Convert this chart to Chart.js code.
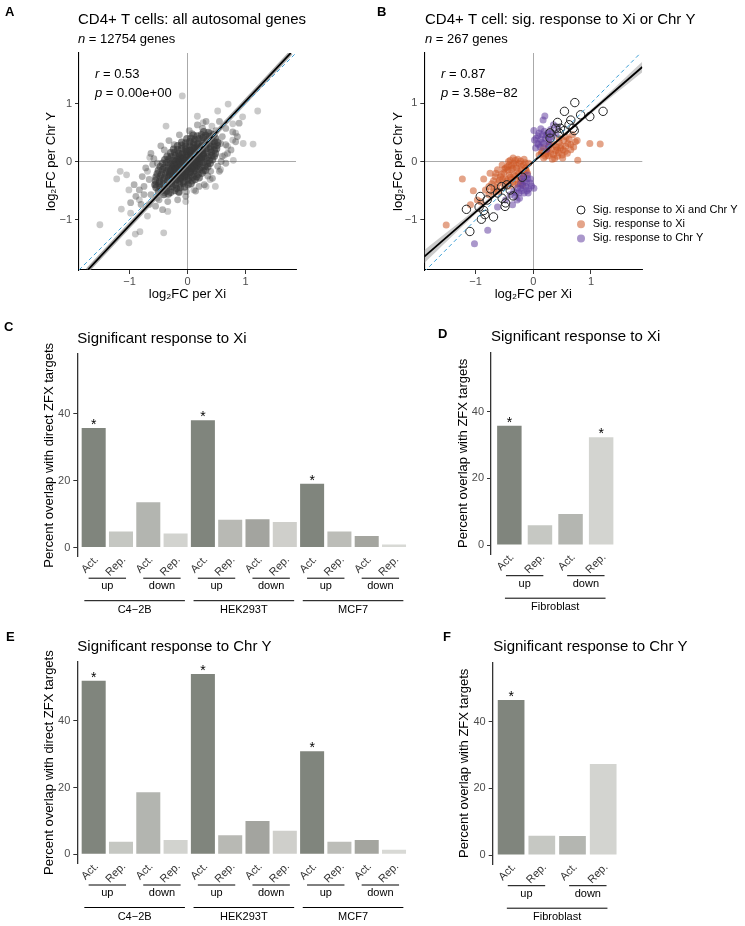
<!DOCTYPE html>
<html>
<head>
<meta charset="utf-8">
<script src="https://cdn.jsdelivr.net/npm/chart.js"></script>
<style>
  body { margin: 0; background: #fff; width: 745px; height: 926px; position: relative; overflow: hidden; }
  canvas { position: absolute; }
</style>
</head>
<body>
<canvas id="cA" width="372" height="310" style="left:0;top:0;width:372px;height:310px"></canvas>
<canvas id="cB" width="373" height="310" style="left:372px;top:0;width:373px;height:310px"></canvas>
<canvas id="cC" width="430" height="310" style="left:0;top:310px;width:430px;height:310px"></canvas>
<canvas id="cD" width="315" height="310" style="left:430px;top:310px;width:315px;height:310px"></canvas>
<canvas id="cE" width="430" height="306" style="left:0;top:620px;width:430px;height:306px"></canvas>
<canvas id="cF" width="315" height="306" style="left:430px;top:620px;width:315px;height:306px"></canvas>
<script>
// ---- data ----

// A: all autosomal genes, log2FC per Xi vs per Chr Y
// dense centre (each point stands for a pile of overlapping genes), halo, outliers
const allGenesCore = [
  [-0.41,-0.57],[-0.33,-0.56],
  [-0.50,-0.52],[-0.44,-0.50],[-0.36,-0.51],[-0.29,-0.53],[-0.22,-0.50],[-0.15,-0.52],
  [-0.54,-0.45],[-0.47,-0.44],[-0.40,-0.46],[-0.33,-0.45],[-0.26,-0.43],[-0.19,-0.46],[-0.12,-0.45],[-0.05,-0.44],
  [-0.56,-0.40],[-0.49,-0.38],[-0.42,-0.39],[-0.35,-0.41],[-0.28,-0.38],[-0.21,-0.40],[-0.14,-0.39],[-0.07,-0.37],[0.01,-0.40],[0.06,-0.38],
  [-0.55,-0.33],[-0.48,-0.34],[-0.41,-0.32],[-0.34,-0.33],[-0.27,-0.35],[-0.20,-0.32],[-0.13,-0.33],[-0.06,-0.34],[0.01,-0.32],[0.08,-0.33],[0.13,-0.31],
  [-0.54,-0.27],[-0.47,-0.26],[-0.40,-0.28],[-0.33,-0.27],[-0.26,-0.25],[-0.19,-0.28],[-0.12,-0.27],[-0.05,-0.26],[0.02,-0.28],[0.09,-0.27],[0.16,-0.26],[0.20,-0.28],
  [-0.52,-0.21],[-0.45,-0.22],[-0.38,-0.20],[-0.31,-0.21],[-0.24,-0.23],[-0.17,-0.20],[-0.10,-0.21],[-0.03,-0.22],[0.04,-0.20],[0.11,-0.21],[0.18,-0.22],[0.25,-0.20],
  [-0.50,-0.15],[-0.43,-0.14],[-0.36,-0.16],[-0.29,-0.15],[-0.22,-0.13],[-0.15,-0.16],[-0.08,-0.15],[-0.01,-0.14],[0.06,-0.16],[0.13,-0.15],[0.20,-0.14],[0.27,-0.16],[0.31,-0.15],
  [-0.47,-0.09],[-0.40,-0.10],[-0.33,-0.08],[-0.26,-0.09],[-0.19,-0.11],[-0.12,-0.08],[-0.05,-0.09],[0.02,-0.10],[0.09,-0.08],[0.16,-0.09],[0.23,-0.10],[0.30,-0.08],[0.35,-0.09],
  [-0.43,-0.03],[-0.36,-0.02],[-0.29,-0.04],[-0.22,-0.03],[-0.15,-0.01],[-0.08,-0.04],[-0.01,-0.03],[0.06,-0.02],[0.13,-0.04],[0.20,-0.03],[0.27,-0.02],[0.34,-0.04],[0.39,-0.03],
  [-0.39,0.03],[-0.32,0.04],[-0.25,0.02],[-0.18,0.03],[-0.11,0.05],[-0.04,0.02],[0.03,0.03],[0.10,0.04],[0.17,0.02],[0.24,0.03],[0.31,0.05],[0.38,0.02],[0.43,0.03],
  [-0.35,0.09],[-0.28,0.08],[-0.21,0.10],[-0.14,0.09],[-0.07,0.07],[0.00,0.10],[0.07,0.09],[0.14,0.08],[0.21,0.10],[0.28,0.09],[0.35,0.08],[0.42,0.10],[0.46,0.09],
  [-0.29,0.15],[-0.22,0.16],[-0.15,0.14],[-0.08,0.15],[-0.01,0.17],[0.06,0.14],[0.13,0.15],[0.20,0.16],[0.27,0.14],[0.34,0.15],[0.41,0.16],[0.48,0.14],
  [-0.24,0.21],[-0.17,0.20],[-0.10,0.22],[-0.03,0.21],[0.04,0.19],[0.11,0.22],[0.18,0.21],[0.25,0.20],[0.32,0.22],[0.39,0.21],[0.46,0.20],[0.50,0.22],
  [-0.17,0.27],[-0.10,0.28],[-0.03,0.26],[0.04,0.27],[0.11,0.29],[0.18,0.26],[0.25,0.27],[0.32,0.28],[0.39,0.26],[0.46,0.27],[0.51,0.28],
  [-0.10,0.33],[-0.03,0.32],[0.04,0.34],[0.11,0.33],[0.18,0.31],[0.25,0.34],[0.32,0.33],[0.39,0.32],[0.46,0.34],[0.52,0.33],
  [-0.01,0.39],[0.06,0.40],[0.13,0.38],[0.20,0.39],[0.27,0.41],[0.34,0.38],[0.41,0.39],[0.48,0.40],
  [0.10,0.45],[0.17,0.44],[0.24,0.46],[0.31,0.45],[0.38,0.43],[0.45,0.46],
  [0.28,0.51],[0.36,0.50],
  [-0.26,-0.30],[-0.18,-0.31],[-0.12,-0.29],
  [-0.30,-0.24],[-0.23,-0.25],[-0.16,-0.23],[-0.09,-0.24],[-0.02,-0.25],
  [-0.30,-0.18],[-0.23,-0.17],[-0.16,-0.19],[-0.09,-0.18],[-0.02,-0.17],[0.05,-0.18],
  [-0.27,-0.12],[-0.20,-0.13],[-0.13,-0.11],[-0.06,-0.12],[0.01,-0.13],[0.08,-0.12],[0.12,-0.11],
  [-0.24,-0.06],[-0.17,-0.05],[-0.10,-0.07],[-0.03,-0.06],[0.04,-0.05],[0.11,-0.07],[0.17,-0.06],
  [-0.20,0.00],[-0.13,0.01],[-0.06,-0.01],[0.01,0.00],[0.08,0.02],[0.15,-0.01],[0.20,0.00],
  [-0.15,0.06],[-0.08,0.05],[-0.01,0.07],[0.06,0.06],[0.13,0.04],[0.20,0.07],[0.24,0.06],
  [-0.09,0.12],[-0.02,0.13],[0.05,0.11],[0.12,0.12],[0.19,0.14],[0.26,0.12],
  [-0.02,0.18],[0.05,0.19],[0.12,0.17],[0.19,0.18],[0.26,0.19],
  [0.09,0.24],[0.16,0.23],[0.23,0.25]
];
const allGenesHalo = [
  [-0.63,0.14],[-0.46,0.27],[-0.32,0.36],[-0.14,0.46],[0.03,0.53],[0.17,0.63],[0.32,0.69],[0.49,0.53],[0.60,0.43],
  [0.66,0.29],[0.69,0.14],[0.66,-0.03],[0.55,-0.17],[0.43,-0.29],[0.29,-0.40],[0.14,-0.51],[-0.03,-0.60],[-0.17,-0.66],
  [-0.34,-0.69],[-0.49,-0.66],[-0.63,-0.57],[-0.75,-0.43],[-0.78,-0.26],[-0.72,-0.11],[-0.55,-0.40],[-0.66,-0.31],
  [-0.40,-0.54],[0.20,-0.43],[0.40,-0.17],[0.60,0.09],[0.57,0.31],[0.40,0.49],[0.26,0.57],[-0.23,0.29],[-0.52,-0.03],
  [-0.14,-0.54],[-0.92,-0.40],[-0.83,-0.49],[-0.75,-0.57],[-0.89,-0.60],[-0.66,-0.74],[-0.80,-0.74],[-0.55,-0.77],
  [-0.43,-0.83],[-0.98,-0.71],[0.66,0.57],[0.78,0.51],[0.86,0.43],[0.89,0.66],[0.55,0.69],[0.75,0.20],[0.83,0.34],
  [-0.60,-0.05],[-0.58,0.05],[-0.40,0.20],[0.52,-0.08],[0.58,0.00],[0.35,-0.25],[-0.02,-0.52],[0.08,0.48]
];
const allGenesOutliers = [
  [-0.09,1.13],[0.70,0.99],[1.21,0.87],[0.52,0.87],[0.95,0.77],[0.17,0.78],[-0.37,0.61],[0.27,0.67],[0.42,0.61],
  [0.78,0.65],[0.83,0.49],[0.78,0.37],[0.96,0.31],[1.13,0.30],[0.69,0.26],[0.79,0.02],[0.64,0.11],[-0.65,0.07],
  [-1.16,-0.17],[-1.22,-0.30],[-1.05,-0.23],[-0.69,-0.17],[-1.01,-0.49],[-1.14,-0.82],[-0.98,-0.89],[-0.83,-0.66],
  [-0.69,-0.94],[-0.34,-0.86],[-0.52,-0.63],[-1.51,-1.09],[-0.82,-1.21],[-0.90,-1.25],[-1.01,-1.40],[-0.41,-1.23],
  [-0.03,-0.69],[0.32,-0.43],[0.48,-0.43],[0.11,-0.49],[0.39,-0.31],[0.57,-0.14]
];
const fitA = [[-1.72,-1.87],[1.78,1.87]];
const identityA = [[-1.87,-1.87],[1.87,1.87]];

// B: genes with a significant response
const sigBoth = [
  [0.72,1.01],[1.21,0.86],[0.98,0.77],[0.82,0.80],[0.54,0.86],[0.42,0.67],[0.65,0.71],[0.39,0.57],[0.47,0.57],
  [0.54,0.53],[0.69,0.57],[0.62,0.63],[0.29,0.49],[0.45,0.49],[0.71,0.53],[0.29,0.40],[-0.19,-0.27],[-0.46,-0.40],
  [-0.55,-0.43],[-0.74,-0.47],[-0.80,-0.66],[-0.92,-0.60],[-0.48,-0.71],[-0.54,-0.63],[-0.62,-0.54],[-1.16,-0.82],
  [-0.94,-0.78],[-0.86,-0.84],[-0.84,-0.91],[-0.69,-0.95],[-0.90,-0.99],[-1.10,-1.20],[-0.49,-0.77],[-0.35,-0.59],[-0.40,-0.49]
];
const sigXi = [
  [-0.17,-0.06],[-0.25,-0.03],[-0.34,-0.03],[-0.42,-0.06],[-0.48,-0.11],[-0.38,-0.14],[-0.29,-0.11],[-0.21,-0.14],
  [-0.13,-0.11],[-0.16,-0.20],[-0.25,-0.21],[-0.34,-0.23],[-0.42,-0.23],[-0.51,-0.19],[-0.57,-0.26],[-0.48,-0.30],
  [-0.38,-0.31],[-0.29,-0.30],[-0.22,-0.34],[-0.32,-0.40],[-0.42,-0.42],[-0.51,-0.40],[-0.61,-0.37],[-0.69,-0.33],
  [-0.77,-0.43],[-0.83,-0.49],[-0.68,-0.47],[-0.60,-0.51],[-0.45,-0.09],[-0.35,0.06],[-0.16,0.04],[-0.08,-0.03],
  [-0.27,0.04],[-0.40,0.02],[-0.54,-0.06],[-0.62,-0.14],[-0.75,-0.20],[-0.86,-0.30],[-1.04,-0.50],[-1.23,-0.30],
  [-1.51,-1.09],[-0.97,-0.66],[-1.09,-0.74],[-0.91,-0.69],[-0.77,-0.57],[-0.65,-0.20],[-0.23,-0.27],[-0.38,-0.07],
  [-0.10,-0.20],[-0.19,-0.40],
  [-0.20,-0.08],[-0.30,-0.06],[-0.36,-0.12],[-0.44,-0.15],[-0.27,-0.17],[-0.19,-0.22],[-0.31,-0.25],[-0.40,-0.27],
  [-0.46,-0.34],[-0.53,-0.30],[-0.36,-0.35],[-0.26,-0.38],[-0.55,-0.22],[-0.59,-0.32],[-0.66,-0.26],[-0.72,-0.38],
  [-0.14,-0.02],[-0.22,0.01],[-0.31,0.02],[-0.12,-0.16],[-0.43,0.00],[-0.50,-0.13],[-0.64,-0.44],[-0.70,-0.52],
  [0.14,0.14],[0.21,0.09],[0.30,0.14],[0.39,0.19],[0.47,0.23],[0.56,0.26],[0.65,0.29],[0.73,0.34],[0.59,0.14],
  [0.50,0.11],[0.42,0.09],[0.33,0.04],[0.24,0.17],[0.18,0.23],[0.27,0.25],[0.36,0.29],[0.45,0.33],[0.53,0.36],
  [0.62,0.38],[0.68,0.46],[0.76,0.36],[0.98,0.31],[1.16,0.30],[0.77,0.02],[0.18,0.06],[0.10,0.11],[0.42,0.20],
  [0.52,0.20],[0.65,0.20],
  [0.26,0.10],[0.35,0.12],[0.44,0.15],[0.55,0.17],[0.48,0.27],[0.40,0.25],[0.31,0.21],[0.22,0.13],[0.60,0.31],
  [0.70,0.25],[0.37,0.05],[0.51,0.06],[0.15,0.18],[0.28,0.30],[0.57,0.42],[0.45,0.40]
];
const sigChrY = [
  [0.02,0.37],[0.07,0.31],[0.13,0.38],[0.16,0.46],[0.08,0.44],[0.21,0.40],[0.25,0.49],[0.30,0.55],[0.18,0.31],
  [0.12,0.25],[0.27,0.34],[0.33,0.43],[0.20,0.78],[0.17,0.71],[0.35,0.63],[0.42,0.59],[0.01,0.53],[0.39,0.49],
  [0.04,0.23],[0.23,0.21],[0.05,0.40],[0.10,0.49],[0.15,0.33],[0.22,0.45],[0.28,0.40],[0.19,0.52],[0.09,0.29],
  [0.32,0.49],[0.26,0.28],[0.13,0.56],
  [-0.16,-0.34],[-0.10,-0.29],[-0.05,-0.37],[-0.13,-0.43],[-0.22,-0.46],[-0.25,-0.54],[-0.16,-0.54],[-0.08,-0.47],
  [0.01,-0.46],[-0.34,-0.51],[-0.31,-0.60],[-0.40,-0.57],[-0.48,-0.66],[-0.36,-0.74],[-0.62,-0.78],[-0.79,-1.18],
  [-1.02,-1.41],[-0.10,-0.23],[-0.17,-0.26],[-0.22,-0.38],[-0.09,-0.54],[-0.28,-0.66],
  [-0.20,-0.30],[-0.12,-0.36],[-0.05,-0.30],[-0.18,-0.41],[-0.27,-0.45],[-0.20,-0.50],[-0.11,-0.50],[-0.30,-0.54],
  [-0.03,-0.42],[-0.24,-0.63]
];
const fitB = [[-1.89,-1.63],[1.89,1.62]];
const bandBX = [-1.89, -1, 0, 1, 1.89];
const bandBUpper = [-1.52, -0.82, 0.025, 0.89, 1.71];
const bandBLower = [-1.74, -0.90, -0.025, 0.82, 1.53];
const identityB = [[-1.89,-1.89],[1.89,1.89]];
const fcTicks = [-1, 0, 1];

// C-F: percent overlap with ZFX targets
const barLabels = ['Act.','Rep.','Act.','Rep.','Act.','Rep.','Act.','Rep.','Act.','Rep.','Act.','Rep.'];
const directionLabels = ['up', 'down'];
const cellLines = ['C4\u22122B', 'HEK293T', 'MCF7'];
const fibroblastLines = ['Fibroblast'];
const xiCellLineValues = [35.7, 4.8, 13.5, 4.2, 38.0, 8.3, 8.4, 7.6, 19.0, 4.8, 3.4, 0.9];
const xiCellLineSig = [1, 0, 0, 0, 1, 0, 0, 0, 1, 0, 0, 0];
const xiFibroValues = [35.8, 5.9, 9.3, 32.3];
const xiFibroSig = [1, 0, 0, 1];
const yCellLineValues = [52.1, 3.8, 18.6, 4.3, 54.1, 5.7, 10.0, 7.1, 30.9, 3.8, 4.3, 1.4];
const yCellLineSig = [1, 0, 0, 0, 1, 0, 0, 0, 1, 0, 0, 0];
const yFibroValues = [46.5, 5.8, 5.7, 27.3];
const yFibroSig = [1, 0, 0, 0];
const pctTicks = [0, 20, 40];

// bar fills
const cellLineColors = ['#80857d','#c5c7c2','#b3b5b0','#d2d3cf','#80857d','#b8b9b4','#a3a49f','#cfcfcb','#80857d','#bcbdb8','#a4a59f','#d8d9d5'];
const fibroColors = ['#80857d','#c6c8c3','#b4b6b1','#d3d4d0'];

const ORANGE = 'rgba(205,90,40,0.55)';
const PURPLE = 'rgba(100,65,160,0.55)';
const legendItemsB = [
  {text: 'Sig. response to Xi and Chr Y', open: true, color: '#222'},
  {text: 'Sig. response to Xi', open: false, color: ORANGE},
  {text: 'Sig. response to Chr Y', open: false, color: PURPLE}
];

// ---- drawing ----
const FAMILY = '"Liberation Sans", Arial, Helvetica, sans-serif';
Chart.defaults.font.family = FAMILY;
Chart.defaults.animation = false;

const toXY = pts => pts.map(p => ({x: p[0], y: p[1]}));
const minusSign = v => String(v).replace('-', '\u2212');

// parts starting with "_" are italic
function drawRich(ctx, parts, x, y, size, weight) {
  ctx.save();
  ctx.fillStyle = '#000';
  ctx.textBaseline = 'middle';
  ctx.textAlign = 'left';
  parts.forEach(p => {
    const italic = p[0] === '_';
    const t = italic ? p.slice(1) : p;
    ctx.font = (italic ? 'italic ' : '') + (weight || 'normal') + ' ' + size + 'px ' + FAMILY;
    ctx.fillText(t, x, y);
    x += ctx.measureText(t).width;
  });
  ctx.restore();
}

const panelText = {
  id: 'panelText',
  afterDraw(chart, args, opts) {
    (opts.items || []).forEach(it => {
      drawRich(chart.ctx, it.parts, it.x - opts.ox, it.y - opts.oy, it.size, it.weight);
    });
  }
};

const barExtras = {
  id: 'barExtras',
  afterDraw(chart, args, opts) {
    if (!opts.values) return;
    const {ctx, chartArea, scales: {x, y}} = chart;
    const b = chartArea.bottom;
    ctx.save();
    ctx.fillStyle = '#000';
    ctx.strokeStyle = '#000';
    ctx.lineWidth = 1;
    ctx.textAlign = 'center';
    ctx.font = '14px ' + FAMILY;
    ctx.textBaseline = 'alphabetic';
    opts.sig.forEach((s, i) => {
      if (s) ctx.fillText('*', x.getPixelForValue(i), y.getPixelForValue(opts.values[i]) + 1);
    });
    const hline = (x0, x1, yy) => {
      ctx.beginPath(); ctx.moveTo(x0, yy + 0.5); ctx.lineTo(x1, yy + 0.5); ctx.stroke();
    };
    ctx.font = '11px ' + FAMILY;
    ctx.textBaseline = 'middle';
    for (let k = 0; k < opts.values.length / 2; k++) {
      const mid = (x.getPixelForValue(2 * k) + x.getPixelForValue(2 * k + 1)) / 2;
      hline(mid - 18.7, mid + 18.7, b + 21);
      ctx.fillText(directionLabels[k % 2], mid, b + 29.5);
    }
    opts.groups.forEach((g, i) => {
      const mid = (x.getPixelForValue(4 * i) + x.getPixelForValue(4 * i + 3)) / 2;
      hline(mid - 50.3, mid + 50.3, b + 43.5);
      ctx.fillText(g, mid, b + 53);
    });
    ctx.restore();
  }
};

const legendB = {
  id: 'legendB',
  afterDraw(chart, args, opts) {
    if (!opts.show) return;
    const ctx = chart.ctx;
    legendItemsB.forEach((it, i) => {
      const yy = opts.y + i * opts.step;
      ctx.save();
      ctx.beginPath();
      ctx.arc(opts.x, yy, 4, 0, Math.PI * 2);
      if (it.open) { ctx.strokeStyle = it.color; ctx.lineWidth = 1; ctx.stroke(); }
      else { ctx.fillStyle = it.color; ctx.fill(); }
      ctx.restore();
      drawRich(ctx, [it.text], opts.x + 11.7, yy, 11);
    });
  }
};

Chart.register(panelText, barExtras, legendB);

// paddings so that the plot panel lands where it is in the figure
function frame(cw, ch, area, yTitleX, xTitleY) {
  const yLeft = yTitleX - 7.8 - 4;
  const bottomEdge = xTitleY ? xTitleY + 11.8 : ch;
  return {
    padding: {left: yLeft, right: cw - area.right, top: area.top, bottom: ch - bottomEdge},
    yWidth: area.left - yLeft,
    xHeight: bottomEdge - area.bottom
  };
}

function scatterScales(f, xLim, yLim) {
  const zeroGrid = {
    color: c => (c.tick && c.tick.value === 0) ? '#a0a0a0' : 'rgba(0,0,0,0)',
    lineWidth: 0.9, tickColor: '#333', tickWidth: 1, tickLength: 4
  };
  return {
    x: {
      type: 'linear', min: -xLim, max: xLim,
      afterBuildTicks: s => { s.ticks = fcTicks.map(v => ({value: v})); },
      afterFit: s => { s.height = f.xHeight; s.paddingLeft = 0; s.paddingRight = 0; },
      grid: zeroGrid,
      border: {display: true, color: '#000', width: 1.1},
      ticks: {font: {size: 11}, color: '#4d4d4d', padding: 1, callback: v => minusSign(v)},
      title: {display: true, text: 'log\u2082FC per Xi', font: {size: 13}, color: '#000'}
    },
    y: {
      type: 'linear', min: -yLim, max: yLim,
      afterBuildTicks: s => { s.ticks = fcTicks.map(v => ({value: v})); },
      afterFit: s => { s.width = f.yWidth; s.paddingTop = 0; s.paddingBottom = 0; },
      grid: zeroGrid,
      border: {display: true, color: '#000', width: 1.1},
      ticks: {font: {size: 11}, color: '#4d4d4d', padding: 3, callback: v => minusSign(v)},
      title: {display: true, text: 'log\u2082FC per Chr Y', font: {size: 13}, color: '#000'}
    }
  };
}

// ---- panel A ----
const fA = frame(372, 310, {left: 79, right: 296, top: 53, bottom: 270}, 51.7, 294.3);
new Chart(document.getElementById('cA'), {
  type: 'scatter',
  data: {
    datasets: [
      {data: toXY(identityA), showLine: true, borderColor: '#3fa0d6', borderWidth: 1, borderDash: [4, 3], pointRadius: 0},
      {data: toXY(fitA), showLine: true, borderColor: '#000', borderWidth: 1.8, pointRadius: 0},
      {data: toXY(fitA), showLine: true, borderColor: 'rgba(150,150,150,0.8)', borderWidth: 4.5, pointRadius: 0},
      {data: toXY(allGenesCore), pointRadius: 3.8, backgroundColor: 'rgba(55,55,55,0.6)', borderWidth: 0},
      {data: toXY(allGenesHalo), pointRadius: 3.4, backgroundColor: 'rgba(55,55,55,0.38)', borderWidth: 0},
      {data: toXY(allGenesOutliers), pointRadius: 3.4, backgroundColor: 'rgba(55,55,55,0.27)', borderWidth: 0}
    ]
  },
  options: {
    responsive: false, events: [],
    layout: {padding: fA.padding, autoPadding: false},
    scales: scatterScales(fA, 1.87, 1.87),
    plugins: {
      legend: {display: false}, tooltip: {enabled: false},
      panelText: {ox: 0, oy: 0, items: [
        {parts: ['A'], x: 5, y: 12.5, size: 13, weight: 'bold'},
        {parts: ['CD4+ T cells: all autosomal genes'], x: 78, y: 19.5, size: 15},
        {parts: ['_n', ' = 12754 genes'], x: 78, y: 39.5, size: 13},
        {parts: ['_r', ' = 0.53'], x: 95, y: 74, size: 13},
        {parts: ['_p', ' = 0.00e+00'], x: 95, y: 93, size: 13}
      ]}
    }
  }
});

// ---- panel B ----
const fB = frame(373, 310, {left: 52.3, right: 270.3, top: 53, bottom: 270}, 26.3, 294.3);
new Chart(document.getElementById('cB'), {
  type: 'scatter',
  data: {
    datasets: [
      {data: toXY(identityB), showLine: true, borderColor: '#3fa0d6', borderWidth: 1, borderDash: [4, 3], pointRadius: 0},
      {data: toXY(fitB), showLine: true, borderColor: '#000', borderWidth: 1.8, pointRadius: 0},
      {data: toXY(sigBoth), pointRadius: 4.2, backgroundColor: 'rgba(0,0,0,0)', borderColor: '#222', borderWidth: 1},
      {data: toXY(sigChrY), pointRadius: 3.5, backgroundColor: PURPLE, borderWidth: 0},
      {data: toXY(sigXi), pointRadius: 3.5, backgroundColor: ORANGE, borderWidth: 0},
      {data: bandBX.map((v, i) => ({x: v, y: bandBUpper[i]})), showLine: true, tension: 0.3, fill: '+1',
       backgroundColor: 'rgba(175,175,175,0.65)', borderWidth: 0, pointRadius: 0},
      {data: bandBX.map((v, i) => ({x: v, y: bandBLower[i]})), showLine: true, tension: 0.3,
       borderWidth: 0, pointRadius: 0}
    ]
  },
  options: {
    responsive: false, events: [],
    layout: {padding: fB.padding, autoPadding: false},
    scales: scatterScales(fB, 1.89, 1.86),
    plugins: {
      legend: {display: false}, tooltip: {enabled: false},
      panelText: {ox: 372, oy: 0, items: [
        {parts: ['B'], x: 377, y: 12.5, size: 13, weight: 'bold'},
        {parts: ['CD4+ T cell: sig. response to Xi or Chr Y'], x: 425, y: 19.5, size: 15},
        {parts: ['_n', ' = 267 genes'], x: 425, y: 39.5, size: 13},
        {parts: ['_r', ' = 0.87'], x: 441, y: 74, size: 13},
        {parts: ['_p', ' = 3.58e\u221282'], x: 441, y: 93, size: 13}
      ]},
      legendB: {show: true, x: 209, y: 210, step: 14.2}
    }
  }
});

// ---- bar panels ----
function barPanel(id, cw, ch, area, yTitleX, off, values, sig, colors, groups, barPct, yTitle, texts) {
  const f = frame(cw, ch, area, yTitleX);
  const n = values.length;
  new Chart(document.getElementById(id), {
    type: 'bar',
    data: {
      datasets: [{
        data: values.map((v, i) => ({x: i, y: v})),
        backgroundColor: colors, borderWidth: 0,
        barPercentage: barPct, categoryPercentage: 1
      }]
    },
    options: {
      responsive: false, events: [],
      layout: {padding: f.padding, autoPadding: false},
      scales: {
        x: {
          type: 'linear', min: -0.6, max: n - 1 + 0.6, offset: false,
          afterBuildTicks: s => { s.ticks = values.map((v, i) => ({value: i})); },
          afterFit: s => { s.height = f.xHeight; s.paddingLeft = 0; s.paddingRight = 0; },
          grid: {display: false, drawTicks: false},
          border: {display: false},
          ticks: {autoSkip: false, minRotation: 45, maxRotation: 45, padding: -3.5, labelOffset: 3,
                  font: {size: 11}, color: '#333', callback: v => barLabels[v]}
        },
        y: {
          type: 'linear', min: -2.75, max: 57.75,
          afterBuildTicks: s => { s.ticks = pctTicks.map(v => ({value: v})); },
          afterFit: s => { s.width = f.yWidth; s.paddingTop = 0; s.paddingBottom = 0; },
          grid: {drawOnChartArea: false, color: '#333', tickLength: 4, tickWidth: 1},
          border: {display: true, color: '#333', width: 1.3},
          ticks: {font: {size: 11}, color: '#4d4d4d', padding: 3},
          title: {display: true, text: yTitle, font: {size: 13}, color: '#000'}
        }
      },
      plugins: {
        legend: {display: false}, tooltip: {enabled: false},
        barExtras: {values: values, sig: sig, groups: groups},
        panelText: {ox: off[0], oy: off[1], items: texts}
      }
    }
  });
}

barPanel('cC', 430, 310, {left: 77.3, right: 410.4, top: 44, bottom: 246.7}, 49.3, [0, 310],
  xiCellLineValues, xiCellLineSig, cellLineColors, cellLines, 0.88,
  'Percent overlap with direct ZFX targets', [
    {parts: ['C'], x: 4, y: 327.5, size: 13, weight: 'bold'},
    {parts: ['Significant response to Xi'], x: 77.3, y: 339.3, size: 15}
  ]);

barPanel('cD', 315, 310, {left: 61, right: 189.5, top: 42.5, bottom: 244.2}, 33.3, [430, 310],
  xiFibroValues, xiFibroSig, fibroColors, fibroblastLines, 0.8,
  'Percent overlap with ZFX targets', [
    {parts: ['D'], x: 438, y: 334.5, size: 13, weight: 'bold'},
    {parts: ['Significant response to Xi'], x: 491, y: 337.3, size: 15}
  ]);

barPanel('cE', 430, 306, {left: 77.3, right: 410.4, top: 41.8, bottom: 243.5}, 49.3, [0, 620],
  yCellLineValues, yCellLineSig, cellLineColors, cellLines, 0.88,
  'Percent overlap with direct ZFX targets', [
    {parts: ['E'], x: 6, y: 637.5, size: 13, weight: 'bold'},
    {parts: ['Significant response to Chr Y'], x: 77.3, y: 646.7, size: 15}
  ]);

barPanel('cF', 315, 306, {left: 62.7, right: 191.6, top: 42.5, bottom: 244.2}, 34.3, [430, 620],
  yFibroValues, yFibroSig, fibroColors, fibroblastLines, 0.87,
  'Percent overlap with ZFX targets', [
    {parts: ['F'], x: 443, y: 637.8, size: 13, weight: 'bold'},
    {parts: ['Significant response to Chr Y'], x: 493.3, y: 646.7, size: 15}
  ]);
</script>
</body>
</html>
